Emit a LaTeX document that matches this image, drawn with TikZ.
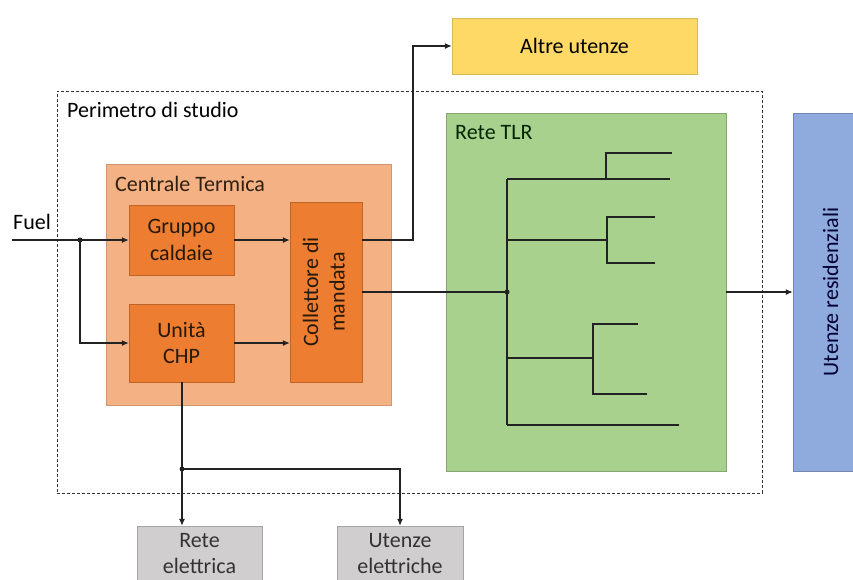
\documentclass[tikz,border=0pt]{standalone}
\usepackage{fontspec}
\setmainfont{Carlito}
\usepackage{graphicx}
\usetikzlibrary{arrows.meta, positioning}
\definecolor{ctorange}{RGB}{244,177,131}
\definecolor{unitorange}{RGB}{237,125,49}
\definecolor{tlrgreen}{RGB}{169,209,142}
\definecolor{altreyellow}{RGB}{255,217,102}
\definecolor{resblue}{RGB}{143,170,220}
\definecolor{elgray}{RGB}{208,206,206}
\definecolor{linegray}{RGB}{34,34,34}

\begin{document}
\begin{tikzpicture}[
    x=1pt, y=-1pt,
    every node/.style={font=\fontsize{22}{26.5}\selectfont},
    box/.style={rectangle, draw, inner sep=0pt, align=center},
    unitbox/.style={box, fill=unitorange, draw=unitorange!80!black, text=black!80!brown,
                    minimum width=105pt},
    label/.style={inner sep=0pt, anchor=base west},
    flow/.style={draw=linegray, line width=1.2pt},
    arrow/.style={flow, -{Latex[length=7pt, width=6pt]}},
    dot/.style={circle, fill=linegray, inner sep=0pt, minimum size=5pt}
]
    \useasboundingbox (0,0) rectangle (853,579);

    % perimetro di studio
    \node[box, draw=black!80, densely dashed, line width=0.9pt,
          minimum width=705pt, minimum height=402pt] (perim) at (409.5,292) {};
    \node[label] (perimlbl) at (67,117) {Perimetro di studio};

    % centrale termica
    \node[box, fill=ctorange, draw=ctorange!85!black,
          minimum width=285pt, minimum height=241pt] (ct) at (248.5,284.5) {};
    \node[label, text=black!75!brown] (ctlbl) at (115,191) {Centrale Termica};
    \node[unitbox, minimum height=70pt] (gc) at (181.5,240) {Gruppo\\caldaie};
    \node[unitbox, minimum height=78pt] (chp) at (181.5,343) {Unità\\CHP};
    \node[unitbox, minimum width=72pt, minimum height=180pt] (coll) at (326,292)
        {\rotatebox{90}{\begin{tabular}{@{}c@{}}Collettore di\\mandata\end{tabular}}};

    % rete TLR
    \node[box, fill=tlrgreen, draw=tlrgreen!80!black,
          minimum width=280pt, minimum height=358pt] (tlr) at (586,292) {};
    \node[label, text=black!85!green] (tlrlbl) at (455,139) {Rete TLR};

    % utenze
    \node[box, fill=altreyellow, draw=altreyellow!85!black,
          minimum width=245pt, minimum height=56pt] (altre) at (574.5,46) {Altre utenze};
    \node[box, fill=resblue, draw=resblue!80!black, text=black!80!blue,
          minimum width=75pt, minimum height=358pt] (res) at (830.5,292)
        {\rotatebox{90}{Utenze residenziali}};
    \node[box, fill=elgray, draw=elgray!80!black, text=black!80,
          minimum width=125pt, minimum height=55pt] (rel) at (199.5,553.5) {Rete\\elettrica};
    \node[box, fill=elgray, draw=elgray!80!black, text=black!80,
          minimum width=126pt, minimum height=55pt] (uel) at (400,553.5) {Utenze\\elettriche};

    % fuel
    \node[label] (fuel) at (13,229) {Fuel};
    \coordinate (fuelin) at (12,240);
    \node[dot] (jf) at (80,240) {};
    \draw[arrow] (fuelin) -- (gc.west);
    \draw[arrow] (jf.center) |- (chp.west);
    \draw[arrow] (gc.east) -- (gc.east -| coll.west);
    \draw[arrow] (chp.east) -- (chp.east -| coll.west);

    % mandata
    \coordinate (riser) at (413,0);
    \draw[arrow] (coll.east |- gc.east) -| (riser |- altre.west) -- (altre.west);
    \node[dot] (jt) at (507,292) {};
    \draw[flow] (coll.east) -- (jt.center);

    % rete di distribuzione
    \draw[flow] (507,179) -- (507,425);
    \draw[flow] (507,179) -- (670,179);
    \draw[flow] (606,179) |- (672,153);
    \draw[flow] (507,240) -- (607,240);
    \draw[flow] (655,217) -| (607,263) -- (655,263);
    \draw[flow] (507,358) -- (593,358);
    \draw[flow] (638,324) -| (593,394) -- (647,394);
    \draw[flow] (507,425) -- (679,425);
    \draw[arrow] (tlr.east) -- (res.west);

    % elettricita
    \node[dot] (je) at (182,469) {};
    \draw[arrow] (chp.south -| je) -- (je |- rel.north);
    \draw[arrow] (je.center) -| (uel.north);
\end{tikzpicture}
\end{document}
